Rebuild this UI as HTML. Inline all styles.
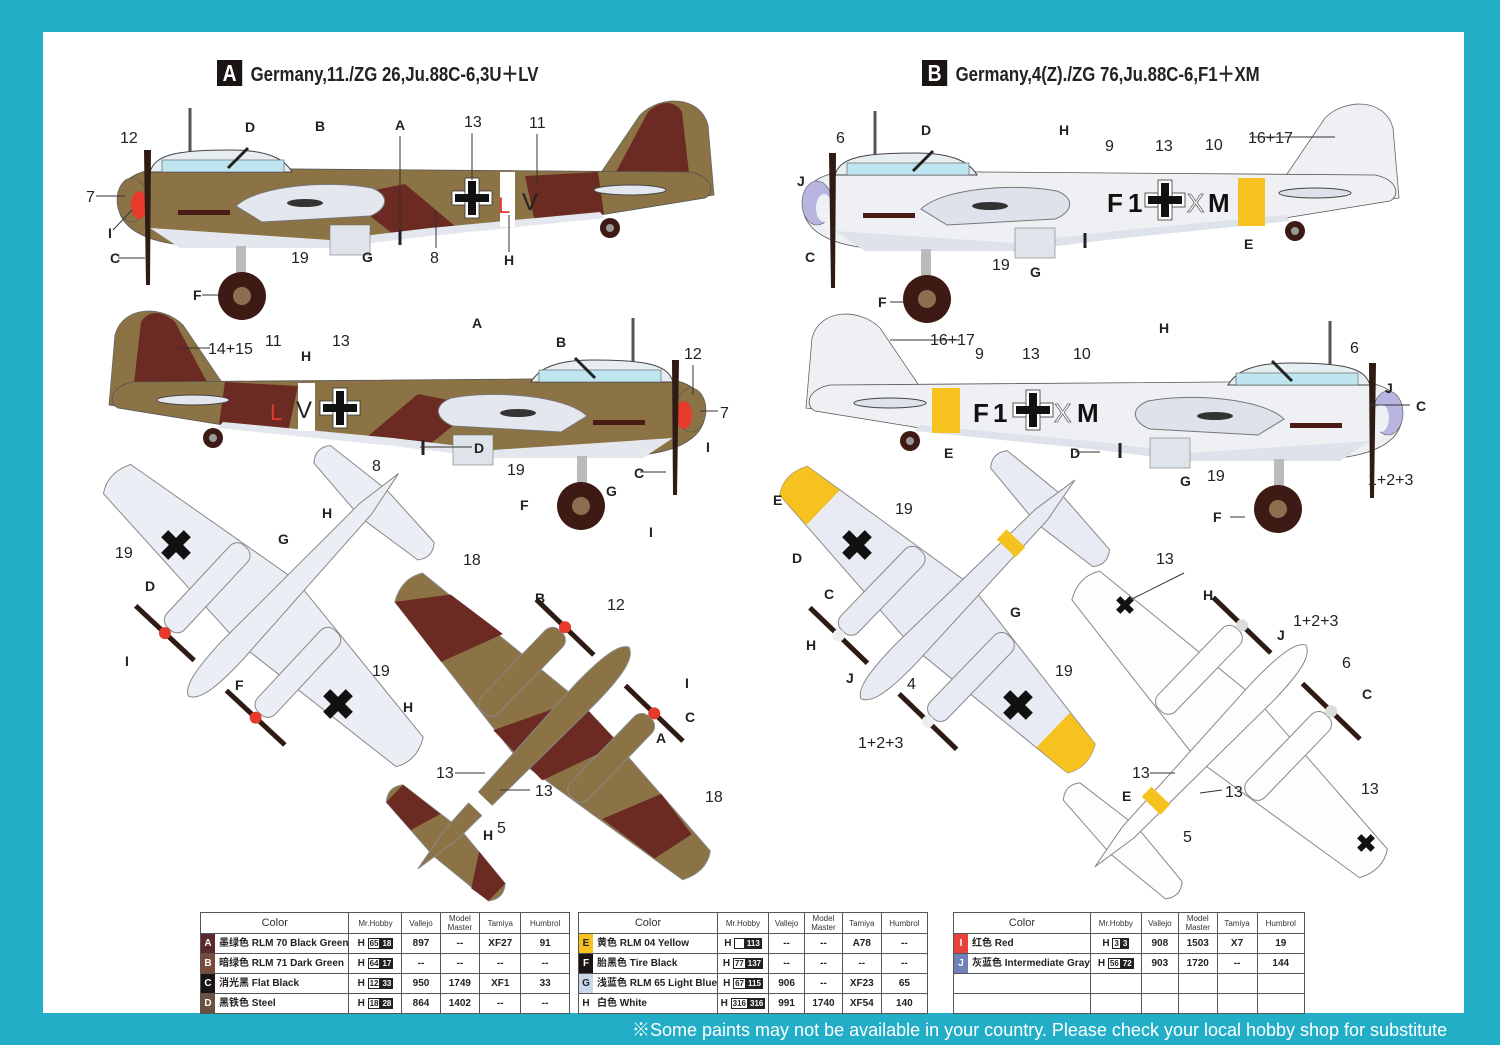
<!DOCTYPE html>
<html><head><meta charset="utf-8">
<style>
html,body{margin:0;padding:0}
body{width:1500px;height:1045px;background:#22aec6;position:relative;overflow:hidden;font-family:"Liberation Sans","Noto Sans CJK SC",sans-serif}
#panel{position:absolute;left:43px;top:32px;width:1421px;height:981px;background:#fff}
svg{position:absolute;left:0;top:0}
.t{position:absolute;border-collapse:collapse;font-size:9px;background:#fff}
.t td{border:1px solid #555;height:19px;text-align:center;padding:0;font-family:"Liberation Sans Narrow","Liberation Sans","Noto Sans CJK SC",sans-serif;font-weight:bold;font-size:10px;color:#222}
.t tr:first-child td{height:20px;font-weight:normal;font-size:8px;color:#333}
.t tr:first-child td.c{font-size:11px}
.t td.l{text-align:left;white-space:nowrap}
.sw{display:inline-block;width:14px;height:19px;vertical-align:middle;color:#fff;text-align:center;line-height:19px;margin-right:4px;font-size:10px}
.h{display:inline-block;border:1px solid #222;font-size:8px;line-height:9px;padding:0 1px}
.hb{display:inline-block;background:#222;color:#fff;font-size:8px;line-height:11px;padding:0 2px}
#foot{position:absolute;left:632px;top:1016px;color:#fff;font-size:18px;white-space:nowrap}
.ttl{position:absolute;top:58px;font-family:"Liberation Sans Narrow","Liberation Sans",sans-serif;font-weight:bold;font-size:20px;color:#222;white-space:nowrap;transform:scaleX(0.84);transform-origin:left}
.box{display:inline-block;background:#1a1413;color:#fff;width:30px;text-align:center;margin-right:10px;font-size:23px;line-height:26px}
</style></head><body>
<div id="panel"></div>
<div class="ttl" style="left:217px"><span class="box">A</span>Germany,11./ZG 26,Ju.88C-6,3U＋LV</div>
<div class="ttl" style="left:922px"><span class="box">B</span>Germany,4(Z)./ZG 76,Ju.88C-6,F1＋XM</div>

<svg width="1500" height="1045" viewBox="0 0 1500 1045">
<defs>
<g id="side">
 <line x1="190" y1="108" x2="190" y2="152" stroke="#555" stroke-width="3"/>
 <path d="M600,174 L640,115 C660,95 700,95 708,125 L714,195 L680,200 Z" fill="var(--body)" stroke="#666" stroke-width="0.8"/>
 <path d="M615,174 L648,112 C660,100 675,100 682,112 L690,182 Z" fill="var(--camo)"/>
 <path d="M118,205 C118,180 135,170 165,168 L690,172 C712,176 716,192 705,198 L600,215 L430,232 L330,244 L200,246 C150,245 120,230 118,205 Z" fill="var(--body)" stroke="#555" stroke-width="0.8"/>
 <path d="M345,196 L405,184 L462,232 L398,238 Z" fill="var(--camo)"/>
 <path d="M525,176 L598,172 L604,214 L535,222 Z" fill="var(--camo)"/>
 <path d="M150,228 L330,240 L430,228 L600,212 L605,218 L430,236 L330,248 L180,248 Z" fill="var(--belly)"/>
 <path d="M236,206 C258,185 330,180 372,188 C392,196 386,210 370,216 L262,222 Z" fill="var(--belly)" stroke="#777"/>
 <ellipse cx="305" cy="203" rx="18" ry="4" fill="#333"/>
 <path d="M150,172 C155,155 175,150 230,150 C270,150 285,160 292,172 Z" fill="#e6eef2" stroke="#444"/>
 <rect x="162" y="160" width="122" height="12" fill="#bfe6f0" stroke="#555" stroke-width="0.6"/>
 <line x1="228" y1="168" x2="248" y2="148" stroke="#222" stroke-width="3"/>
 <ellipse cx="630" cy="190" rx="36" ry="5" fill="var(--belly)" stroke="#444"/>
 <rect x="178" y="210" width="52" height="5" fill="#4a1a14"/>
 <rect x="330" y="225" width="40" height="30" fill="#dfe4ea" stroke="#777" stroke-width="0.6"/>
 <ellipse cx="132" cy="200" rx="15" ry="22" fill="var(--nose)" stroke="#555" stroke-width="0.6"/>
 <ellipse cx="139" cy="205" rx="8" ry="14" fill="var(--spin)"/>
 <path d="M144,150 L151,150 L150,285 L146,285 Z" fill="#2e1c14"/>
 <rect x="236" y="246" width="10" height="28" fill="#bbb"/>
 <circle cx="242" cy="296" r="24" fill="#3d1a14"/>
 <circle cx="242" cy="296" r="9" fill="#8a7050"/>
 <line x1="400" y1="230" x2="400" y2="245" stroke="#222" stroke-width="3"/>
 <circle cx="610" cy="228" r="10" fill="#3d1a14"/><circle cx="610" cy="228" r="4" fill="#999"/>
</g>
<g id="cross">
 <rect x="-20" y="-7" width="40" height="14" fill="#fff" stroke="#333" stroke-width="0.8"/>
 <rect x="-7" y="-20" width="14" height="40" fill="#fff" stroke="#333" stroke-width="0.8"/>
 <rect x="-17" y="-4" width="34" height="8" fill="#111"/>
 <rect x="-4" y="-17" width="8" height="34" fill="#111"/>
</g>
<g id="xk">
 <rect x="-16" y="-5" width="32" height="10" fill="#111"/>
 <rect x="-5" y="-16" width="10" height="32" fill="#111"/>
</g>
<g id="plan">
 <path d="M4,-140 L75,-148 Q85,-160 75,-172 L4,-178 L-67,-172 Q-77,-160 -67,-148 Z" fill="var(--body)" stroke="#888"/>
 <path d="M0,35 L200,18 Q212,0 200,-22 L0,-50 L-200,-22 Q-212,0 -200,18 Z" fill="var(--body)" stroke="#888"/>
 <path d="M160,21 L200,18 Q212,0 200,-22 L160,-27 Z" fill="var(--tip)"/>
 <path d="M-160,21 L-200,18 Q-212,0 -200,-22 L-160,-27 Z" fill="var(--tip)"/>
 <path d="M-200,-22 L-125,-33 L-100,30 L-165,22 Z" fill="var(--camo)"/>
 <path d="M-40,-46 L30,-48 L60,32 L0,35 Z" fill="var(--camo)"/>
 <path d="M100,-34 L165,-26 L175,17 L125,25 Z" fill="var(--camo)"/>
 <path d="M-67,-148 L-20,-143 L-30,-175 L-67,-172 Z" fill="var(--camo)"/>
 <path d="M34,-143 L75,-148 L75,-172 L54,-175 Z" fill="var(--camo)"/>
 <rect x="-72" y="-40" width="24" height="112" rx="10" fill="var(--body)" stroke="#888"/>
 <rect x="52" y="-40" width="24" height="112" rx="10" fill="var(--body)" stroke="#888"/>
 <path d="M0,108 C12,104 15,80 15,45 L10,-150 L2,-198 L-6,-150 L-13,45 C-13,80 -10,104 0,108 Z" fill="var(--body)" stroke="#888"/>
 <rect x="-13" y="-115" width="26" height="14" fill="var(--band)"/>
 <line x1="-100" y1="78" x2="-20" y2="78" stroke="#2e1c14" stroke-width="5"/>
 <line x1="24" y1="78" x2="104" y2="78" stroke="#2e1c14" stroke-width="5"/>
 <circle cx="-60" cy="78" r="6" fill="var(--spin)"/>
 <circle cx="64" cy="78" r="6" fill="var(--spin)"/>
</g>
</defs>

<!-- side views -->
<use href="#side" style="--body:#8b7346;--camo:#6b2a22;--belly:#e4e7ee;--nose:#8b7346;--spin:#e83a2a"/>
<rect x="500" y="172" width="15" height="55" fill="#fff"/>
<use href="#cross" transform="translate(472,198)"/>
<text x="498" y="213" fill="#e23a2a" font-size="22" font-family="Liberation Sans">L</text>
<text x="522" y="210" fill="#222" font-size="24" font-family="Liberation Sans">V</text>

<use href="#side" transform="translate(823,210) scale(-1,1)" style="--body:#8b7346;--camo:#6b2a22;--belly:#e4e7ee;--nose:#8b7346;--spin:#e83a2a"/>
<rect x="298" y="383" width="17" height="48" fill="#fff"/>
<use href="#cross" transform="translate(340,408)"/>
<text x="270" y="420" fill="#e23a2a" font-size="22">L</text>
<text x="296" y="418" fill="#222" font-size="24">V</text>

<use href="#side" transform="translate(685,3)" style="--body:#eef0f4;--camo:#eef0f4;--belly:#dde2eb;--nose:#b8b6e0;--spin:#eef0f4"/>
<rect x="1238" y="178" width="27" height="48" fill="#f5c21f"/>
<text x="1107" y="212" fill="#111" font-size="26" font-weight="bold">F</text>
<text x="1128" y="212" fill="#111" font-size="26" font-weight="bold">1</text>
<use href="#cross" transform="translate(1165,200)"/>
<text x="1187" y="212" fill="#fff" stroke="#666" stroke-width="0.8" font-size="26">X</text>
<text x="1208" y="212" fill="#111" font-size="26" font-weight="bold">M</text>

<use href="#side" transform="translate(1520,213) scale(-1,1)" style="--body:#eef0f4;--camo:#eef0f4;--belly:#dde2eb;--nose:#b8b6e0;--spin:#eef0f4"/>
<rect x="932" y="388" width="28" height="45" fill="#f5c21f"/>
<text x="973" y="422" fill="#111" font-size="26" font-weight="bold">F</text>
<text x="993" y="422" fill="#111" font-size="26" font-weight="bold">1</text>
<use href="#cross" transform="translate(1033,410)"/>
<text x="1054" y="422" fill="#fff" stroke="#666" stroke-width="0.8" font-size="26">X</text>
<text x="1077" y="422" fill="#111" font-size="26" font-weight="bold">M</text>

<!-- planforms -->
<use href="#plan" transform="translate(262,617) rotate(43)" style="--body:#eceef5;--camo:none;--tip:none;--band:none;--spin:#e83a2a"/>
<use href="#xk" transform="translate(176,545) rotate(45)"/>
<use href="#xk" transform="translate(338,704) rotate(45)"/>
<use href="#plan" transform="translate(554,725) rotate(44) scale(1,-1)" style="--body:#8b7346;--camo:#6b2a22;--tip:none;--band:#fff;--spin:#e83a2a"/>
<use href="#plan" transform="translate(936,621) rotate(44)" style="--body:#e8ebf4;--camo:none;--tip:#f5c21f;--band:#f5c21f;--spin:#eee"/>
<use href="#xk" transform="translate(857,545) rotate(45)"/>
<use href="#xk" transform="translate(1018,705) rotate(45)"/>
<use href="#plan" transform="translate(1231,723) rotate(44) scale(1,-1)" style="--body:#fdfdfe;--camo:none;--tip:none;--band:#f5c21f;--spin:#ddd"/>
<use href="#xk" transform="translate(1125,605) rotate(45) scale(0.6)"/>
<use href="#xk" transform="translate(1366,843) rotate(45) scale(0.6)"/>

<!-- labels -->
<g font-family="Liberation Sans" font-size="16" fill="#222">
<text x="120" y="143">12</text><text x="86" y="202">7</text><text x="464" y="127">13</text><text x="529" y="128">11</text>
<text x="291" y="263">19</text><text x="430" y="263">8</text>
<text x="208" y="354">14+15</text><text x="265" y="346">11</text><text x="332" y="346">13</text><text x="684" y="359">12</text><text x="720" y="418">7</text>
<text x="372" y="471">8</text><text x="507" y="475">19</text>
<text x="115" y="558">19</text><text x="463" y="565">18</text><text x="607" y="610">12</text><text x="372" y="676">19</text>
<text x="436" y="778">13</text><text x="535" y="796">13</text><text x="497" y="833">5</text><text x="705" y="802">18</text>
<text x="836" y="143">6</text><text x="1105" y="151">9</text><text x="1155" y="151">13</text><text x="1205" y="150">10</text><text x="1248" y="143">16+17</text>
<text x="992" y="270">19</text>
<text x="930" y="345">16+17</text><text x="975" y="359">9</text><text x="1022" y="359">13</text><text x="1073" y="359">10</text><text x="1350" y="353">6</text>
<text x="1207" y="481">19</text><text x="1368" y="485">1+2+3</text>
<text x="895" y="514">19</text><text x="1156" y="564">13</text><text x="1293" y="626">1+2+3</text><text x="1342" y="668">6</text>
<text x="1055" y="676">19</text><text x="907" y="689">4</text><text x="858" y="748">1+2+3</text>
<text x="1132" y="778">13</text><text x="1225" y="797">13</text><text x="1361" y="794">13</text><text x="1183" y="842">5</text>
</g>
<g font-family="Liberation Sans Narrow,Liberation Sans" font-weight="bold" font-size="14" fill="#222">
<text x="245" y="132">D</text><text x="315" y="131">B</text><text x="395" y="130">A</text>
<text x="108" y="238">I</text><text x="110" y="263">C</text><text x="362" y="262">G</text><text x="504" y="265">H</text><text x="193" y="300">F</text>
<text x="301" y="361">H</text><text x="472" y="328">A</text><text x="556" y="347">B</text>
<text x="474" y="453">D</text><text x="706" y="452">I</text><text x="634" y="478">C</text><text x="606" y="496">G</text><text x="520" y="510">F</text><text x="649" y="537">I</text>
<text x="278" y="544">G</text><text x="322" y="518">H</text><text x="145" y="591">D</text><text x="535" y="603">B</text>
<text x="125" y="666">I</text><text x="235" y="690">F</text><text x="685" y="688">I</text><text x="685" y="722">C</text><text x="656" y="743">A</text><text x="403" y="712">H</text>
<text x="483" y="840">H</text>
<text x="921" y="135">D</text><text x="1059" y="135">H</text><text x="797" y="186">J</text><text x="805" y="262">C</text><text x="1030" y="277">G</text><text x="1244" y="249">E</text><text x="878" y="307">F</text>
<text x="1159" y="333">H</text><text x="1385" y="393">J</text><text x="1416" y="411">C</text><text x="944" y="458">E</text><text x="1070" y="458">D</text><text x="1180" y="486">G</text><text x="1213" y="522">F</text>
<text x="773" y="505">E</text><text x="792" y="563">D</text><text x="824" y="599">C</text><text x="1010" y="617">G</text><text x="1203" y="600">H</text><text x="806" y="650">H</text>
<text x="1277" y="640">J</text><text x="1362" y="699">C</text><text x="846" y="683">J</text><text x="1122" y="801">E</text>
</g>
<g stroke="#333" stroke-width="1">
<line x1="96" y1="196" x2="125" y2="196"/><line x1="118" y1="258" x2="145" y2="258"/><line x1="202" y1="295" x2="218" y2="295"/>
<line x1="113" y1="230" x2="132" y2="210"/><line x1="400" y1="136" x2="400" y2="230"/><line x1="472" y1="133" x2="472" y2="180"/>
<line x1="537" y1="134" x2="537" y2="185"/><line x1="509" y1="215" x2="509" y2="252"/><line x1="436" y1="210" x2="436" y2="248"/>
<line x1="210" y1="348" x2="178" y2="348"/><line x1="693" y1="365" x2="693" y2="395"/><line x1="700" y1="411" x2="718" y2="411"/>
<line x1="420" y1="447" x2="472" y2="447"/><line x1="640" y1="472" x2="666" y2="472"/>
<line x1="1250" y1="137" x2="1335" y2="137"/><line x1="960" y1="340" x2="890" y2="340"/><line x1="1075" y1="452" x2="1100" y2="452"/>
<line x1="1230" y1="517" x2="1245" y2="517"/><line x1="1370" y1="405" x2="1410" y2="405"/><line x1="890" y1="302" x2="905" y2="302"/>
<line x1="1184" y1="573" x2="1130" y2="600"/><line x1="1150" y1="773" x2="1175" y2="773"/><line x1="1200" y1="793" x2="1222" y2="790"/>
<line x1="455" y1="773" x2="485" y2="773"/><line x1="500" y1="790" x2="530" y2="790"/>
</g>
</svg>

<table class="t" style="left:200px;top:912px;width:370px">
<tr><td class="c" style="width:120px">Color</td><td style="width:52px">Mr.Hobby</td><td>Vallejo</td><td>Model<br>Master</td><td>Tamiya</td><td>Humbrol</td></tr>
<tr><td class="l"><span class="sw" style="background:#5a2a2a">A</span>墨绿色 RLM 70 Black Green</td><td>H <span class="h">65</span><span class="hb">18</span></td><td>897</td><td>--</td><td>XF27</td><td>91</td></tr>
<tr><td class="l"><span class="sw" style="background:#7a4a3a">B</span>暗绿色 RLM 71 Dark Green</td><td>H <span class="h">64</span><span class="hb">17</span></td><td>--</td><td>--</td><td>--</td><td>--</td></tr>
<tr><td class="l"><span class="sw" style="background:#1a1412">C</span>消光黑 Flat Black</td><td>H <span class="h">12</span><span class="hb">33</span></td><td>950</td><td>1749</td><td>XF1</td><td>33</td></tr>
<tr><td class="l"><span class="sw" style="background:#6a5040">D</span>黑铁色 Steel</td><td>H <span class="h">18</span><span class="hb">28</span></td><td>864</td><td>1402</td><td>--</td><td>--</td></tr>
</table>
<table class="t" style="left:578px;top:912px;width:350px">
<tr><td class="c" style="width:120px">Color</td><td style="width:50px">Mr.Hobby</td><td>Vallejo</td><td>Model<br>Master</td><td>Tamiya</td><td>Humbrol</td></tr>
<tr><td class="l"><span class="sw" style="background:#f5c21f;color:#222">E</span>黄色 RLM 04 Yellow</td><td>H <span class="h">&nbsp;&nbsp;&nbsp;</span><span class="hb">113</span></td><td>--</td><td>--</td><td>A78</td><td>--</td></tr>
<tr><td class="l"><span class="sw" style="background:#1a1412">F</span>胎黑色 Tire Black</td><td>H <span class="h">77</span><span class="hb">137</span></td><td>--</td><td>--</td><td>--</td><td>--</td></tr>
<tr><td class="l"><span class="sw" style="background:#c8d8ea;color:#222">G</span>浅蓝色 RLM 65 Light Blue</td><td>H <span class="h">67</span><span class="hb">115</span></td><td>906</td><td>--</td><td>XF23</td><td>65</td></tr>
<tr><td class="l"><span class="sw" style="background:#fff;color:#222">H</span>白色 White</td><td>H <span class="h">316</span><span class="hb">316</span></td><td>991</td><td>1740</td><td>XF54</td><td>140</td></tr>
</table>
<table class="t" style="left:953px;top:912px;width:352px">
<tr><td class="c" style="width:120px">Color</td><td style="width:50px">Mr.Hobby</td><td>Vallejo</td><td>Model<br>Master</td><td>Tamiya</td><td>Humbrol</td></tr>
<tr><td class="l"><span class="sw" style="background:#e8403a">I</span>红色 Red</td><td>H <span class="h">3</span><span class="hb">3</span></td><td>908</td><td>1503</td><td>X7</td><td>19</td></tr>
<tr><td class="l"><span class="sw" style="background:#7080b8">J</span>灰蓝色 Intermediate Gray</td><td>H <span class="h">56</span><span class="hb">72</span></td><td>903</td><td>1720</td><td>--</td><td>144</td></tr>
<tr><td></td><td></td><td></td><td></td><td></td><td></td></tr>
<tr><td></td><td></td><td></td><td></td><td></td><td></td></tr>
</table>
<div id="foot">※Some paints may not be available in your country. Please check your local hobby shop for substitute</div>
</body></html>
